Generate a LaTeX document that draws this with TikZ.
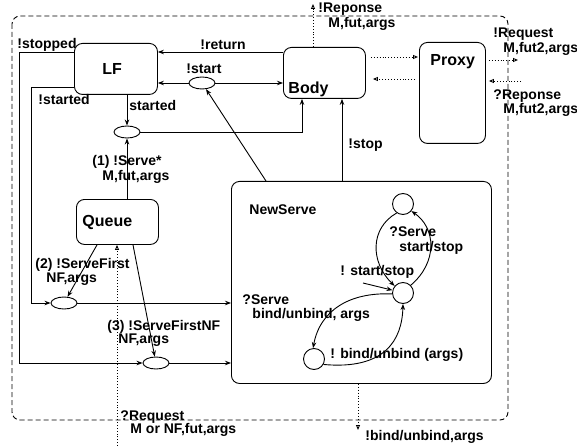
\documentclass[tikz,border=0pt]{standalone}
\usepackage{fontspec}
\setmainfont{Liberation Sans}
\usepackage{tikz}
\usetikzlibrary{shapes.geometric,arrows.meta,positioning,calc}

\tikzset{
  box/.style={draw, rounded corners=8pt, anchor=north west, inner sep=0pt},
  etat/.style={draw, ellipse, minimum width=26pt, minimum height=12pt, inner sep=0pt},
  rond/.style={draw, circle, minimum size=21pt, inner sep=0pt},
  arr/.style={-{Stealth[length=6pt,width=4.5pt]}},
  dotarr/.style={dotted, -{Triangle[open,length=5pt,width=4pt]}},
  lbl/.style={anchor=base west, inner sep=0pt, font=\fontsize{14}{15}\selectfont\bfseries},
  big/.style={lbl, font=\fontsize{16}{18}\selectfont\bfseries}
}

\begin{document}
\begin{tikzpicture}[x=1pt, y=-1pt, line width=0.9pt]
\useasboundingbox (0,0) rectangle (577,446);

% cadre
\draw[dash pattern=on 5pt off 3pt, rounded corners=8pt] (12,16) rectangle (508,420);

% boites
\node[box, minimum width=83pt, minimum height=51pt] (lf) at (74,43) {};
\node[box, minimum width=82pt, minimum height=51pt] (body) at (283,47) {};
\node[box, minimum width=66pt, minimum height=101pt] (proxy) at (419,42) {};
\node[box, minimum width=82pt, minimum height=45pt] (queue) at (76,199) {};
\node[box, minimum width=260pt, minimum height=202pt] (ns) at (231,181) {};

% ellipses et etats
\node[etat] (st) at (202,83) {};
\node[etat] (sd) at (127,132) {};
\node[etat] (e2) at (64,303) {};
\node[etat] (e3) at (156,363) {};
\node[rond] (c1) at (403,204) {};
\node[rond] (c2) at (403,293) {};
\node[rond] (c3) at (314,359) {};

% points libres
\coordinate (stp) at (19,363);
\coordinate (std) at (31,303);
\coordinate (req) at (117,446);
\coordinate (repout) at (313,4);
\coordinate (reqout) at (518,60);
\coordinate (repin) at (521,81);
\coordinate (bind) at (358,430);
\coordinate (init) at (363,283);

% liens
\draw[arr] (body.west |- 0,52) -- (lf.east |- 0,52);
\draw[arr] (st) -- (lf.east |- st);
\draw[arr] (st) -- (body.west |- st);
\draw[arr] ($(ns.north west)+(35,0)$) -- (st);
\draw[arr] (lf.south -| sd) -- (sd);
\draw[arr] (sd) -| ($(body.south west)+(19,0)$);
\draw[arr] (queue.north -| sd) -- (sd);
\draw[arr] ($(ns.north west)+(111,0)$) -- ($(body.south west)+(59,0)$);
\draw[arr] (lf.west |- 0,52) -| (stp) -- (e3);
\draw[arr] (lf.west |- 0,87) -| (std) -- (e2);
\draw[arr] ($(queue.south west)+(21,0)$) -- (e2);
\draw[arr] ($(queue.south west)+(57,0)$) -- (e3);
\draw[arr] (e2) -- (ns.west |- e2);
\draw[arr] (e3) -- (ns.west |- e3);

% liens en pointilles
\draw[dotarr] (req) -- (queue.south -| req);
\draw[dotarr] ($(body.north west)+(30,0)$) -- (repout);
\draw[dotarr, shorten <=5pt, shorten >=1pt] (body.east |- 0,57) -- (proxy.west |- 0,57);
\draw[dotarr, shorten <=4pt, shorten >=7pt] (proxy.west |- 0,79) -- (body.east |- 0,79);
\draw[dotarr, shorten <=3pt] (proxy.east |- reqout) -- (reqout);
\draw[dotarr, shorten >=3pt] (repin) -- (proxy.east |- repin);
\draw[dotarr] (ns.south -| bind) -- (bind);

% NewServe
\draw[arr] (c1.235) .. controls (370,228) and (370,262) .. (c2.140);
\draw[arr] (c2.45) .. controls (438,262) and (436,228) .. (c1.-40);
\draw[arr] (init) -- (c2.165);
\draw[arr] (c2.185) .. controls (350,292) and (320,310) .. (c3.95);
\draw[arr] (c3.-30) .. controls (385,370) and (402,340) .. (c2.south);

% texte
\node[lbl] (stopped) at (17,49) {!stopped};
\node[big] (lflbl) at (102,75) {LF};
\node[lbl] (return) at (200,50) {!return};
\node[lbl] (startl) at (186,74) {!start};
\node[lbl] (startedl) at (38,105) {!started};
\node[lbl] (started) at (129,111) {started};
\node[lbl] (serve1a) at (92,166) {(1) !Serve*};
\node[lbl] (serve1b) at (102,181) {M,fut,args};
\node[big] (bodylbl) at (288,94) {Body};
\node[lbl] (repa) at (318,13) {!Reponse};
\node[lbl] (repb) at (328,28) {M,fut,args};
\node[big] (proxylbl) at (430,66) {Proxy};
\node[lbl] (reqa) at (493,38) {!Request};
\node[lbl] (reqb) at (503,53) {M,fut2,args};
\node[lbl] (rep2a) at (493,100) {?Reponse};
\node[lbl] (rep2b) at (503,114) {M,fut2,args};
\node[lbl] (stop) at (348,149) {!stop};
\node[big] (queuelbl) at (82,226) {Queue};
\node[lbl] (nslbl) at (249,214) {NewServe};
\node[lbl] (sf2a) at (35,268) {(2) !ServeFirst};
\node[lbl] (sf2b) at (46,282) {NF,args};
\node[lbl] (sf3a) at (107,330) {(3) !ServeFirstNF};
\node[lbl] (sf3b) at (118,343) {NF,args};
\node[lbl] (rqa) at (120,420) {?Request};
\node[lbl] (rqb) at (130,433) {M or NF,fut,args};
\node[lbl] (bindlbl) at (365,440) {!bind/unbind,args};
\node[lbl] (ss1a) at (389,236) {?Serve};
\node[lbl] (ss1b) at (399,251) {start/stop};
\node[lbl] (ss2) at (340,275) {! start/stop};
\node[lbl] (bu1a) at (242,304) {?Serve};
\node[lbl] (bu1b) at (252,318) {bind/unbind, args};
\node[lbl] (bu2) at (330,358) {! bind/unbind (args)};

\end{tikzpicture}
\end{document}
